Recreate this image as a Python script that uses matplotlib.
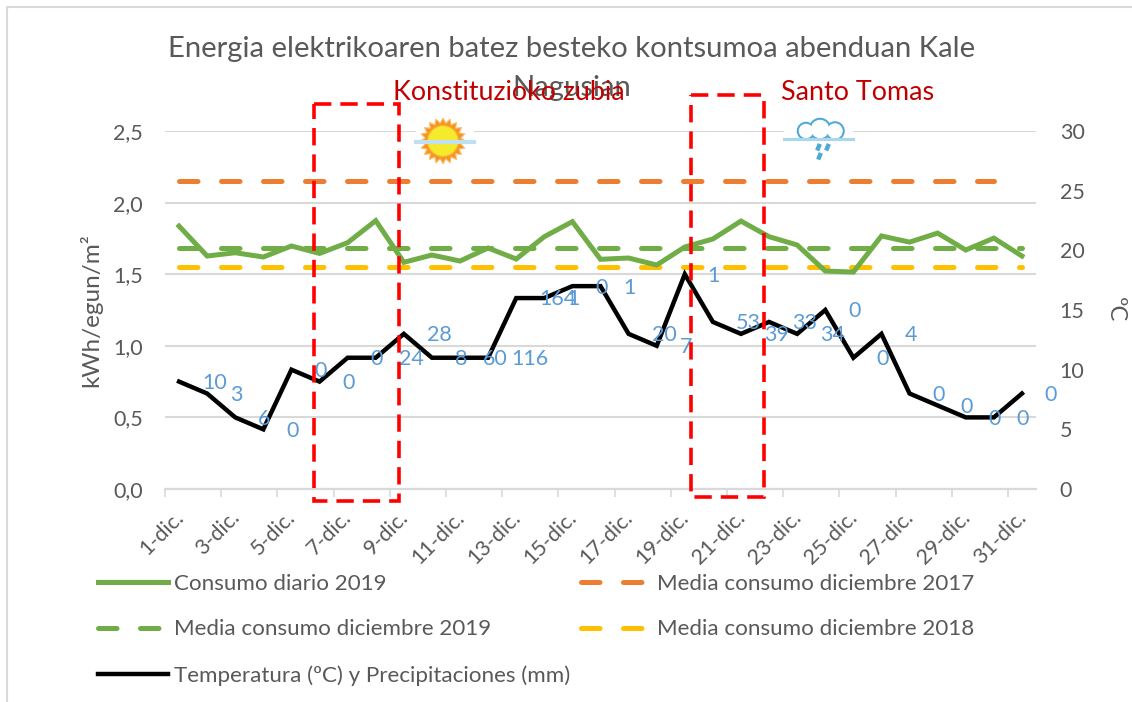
import numpy as np
import matplotlib
matplotlib.use('Agg')
import matplotlib.pyplot as plt
from matplotlib.patches import Circle, Polygon, Rectangle
from matplotlib.transforms import ScaledTranslation

plt.rcParams['font.family'] = ['Lato', 'DejaVu Sans']

days = list(range(1, 32))
day_labels = [f"{d}-dic." for d in days]

consumo_2019 = [1.836, 1.627, 1.650, 1.620, 1.697, 1.645, 1.720, 1.874, 1.583, 1.634, 1.592,
                1.683, 1.606, 1.762, 1.867, 1.604, 1.613, 1.564, 1.690, 1.746, 1.871, 1.762,
                1.704, 1.522, 1.515, 1.767, 1.724, 1.787, 1.669, 1.752, 1.627]
media_2019 = [1.685] * 31
media_2018 = [1.55] * 31
media_2017 = [2.15] * 30  # esta serie acaba un dia antes
temperatura = [9, 8, 6, 5, 10, 9, 11, 11, 13, 11, 11, 11, 16, 16, 17, 17,
               13, 12, 18, 14, 13, 14, 13, 15, 11, 13, 8, 7, 6, 6, 8]
precipitacion = [10, 3, 6, 0, 0, 0, 0, 24, 28, 8, 60, 116, 164, 1, 0, 1,
                 20, 7, 1, 53, 39, 33, 34, 0, 0, 4, 0, 0, 0, 0, 0]

GREEN = '#70AD47'
ORANGE = '#ED7D31'
YELLOW = '#FFC000'
GRAY = '#595959'
GRID = '#D9D9D9'
BLUE = '#5B9BD5'
RED = '#FF0000'
DARK_RED = '#C00000'
SKY = '#4FA9D6'
W, H = 1132, 702

fig = plt.figure(figsize=(W / 100, H / 100), dpi=100)
ax = fig.add_axes([165 / W, 1 - 489 / H, 871 / W, 358 / H])
ax2 = ax.twinx()

# ejes
ax.set_xlim(0.5, 31.5)
ax.set_ylim(0, 2.5)
ax2.set_ylim(0, 30)
ax.set_yticks(np.arange(0, 2.51, 0.5))
ax.set_yticklabels([f"{v:.1f}".replace('.', ',') for v in np.arange(0, 2.51, 0.5)])
ax2.set_yticks(range(0, 31, 5))
ax.set_xticks(days[::2])
ax.set_xticklabels(day_labels[::2], rotation=45, ha='right', va='top', rotation_mode='anchor')
ax.set_xticks(np.arange(0.5, 32, 2), minor=True)
ax.tick_params(axis='x', which='major', length=0, pad=13, labelsize=15.5, labelcolor=GRAY)
ax.tick_params(axis='x', which='minor', length=5.5, width=1.2, color=GRID)
ax.tick_params(axis='y', length=0, pad=16, labelsize=15.5, labelcolor=GRAY)
ax2.tick_params(axis='y', length=0, pad=17, labelsize=15.5, labelcolor=GRAY)
shift = ScaledTranslation(-6 / 100, 0, fig.dpi_scale_trans)
for lab in ax.get_xticklabels():
    lab.set_transform(lab.get_transform() + shift)
ax.grid(axis='y', color=GRID, linewidth=1.5)
ax.set_axisbelow(True)
for a in (ax, ax2):
    for side in ('top', 'left', 'right'):
        a.spines[side].set_visible(False)
    a.spines['bottom'].set_color(GRID)
    a.spines['bottom'].set_linewidth(1.5)
ax.set_ylabel('kWh/egun/m²', fontsize=17.5, color=GRAY, labelpad=8)
ax2.set_ylabel('ºC', fontsize=17, color=GRAY, rotation=270, labelpad=30)

# series
dash = (3.7, 4.7)
lw = 3.6
l_diario, = ax.plot(days, consumo_2019, color=GREEN, lw=lw, solid_joinstyle='miter', zorder=4)
l_m19, = ax.plot(days, media_2019, color=GREEN, lw=lw, dashes=dash, dash_capstyle='round', zorder=3)
l_m18, = ax.plot(days, media_2018, color=YELLOW, lw=lw, dashes=dash, dash_capstyle='round', zorder=3)
l_m17, = ax.plot(days[:30], media_2017, color=ORANGE, lw=lw, dashes=dash, dash_capstyle='round', zorder=3)
l_temp, = ax2.plot(days, temperatura, color='black', lw=3.2, solid_joinstyle='miter')

# las etiquetas de lluvia van desplazadas a la derecha de cada punto
for d, t, p in zip(days, temperatura, precipitacion):
    ax2.annotate(str(p), (d, t), xytext=(16.5, -1), textcoords='offset points',
                 ha='left', va='center', fontsize=15.5, color=BLUE, zorder=6)

fig.legend([l_diario, l_m19, l_temp, l_m17, l_m18],
           ['Consumo diario 2019', 'Media consumo diciembre 2019', 'Temperatura (ºC) y Precipitaciones (mm)',
            'Media consumo diciembre 2017', 'Media consumo diciembre 2018'],
           ncols=2, loc='upper left', bbox_to_anchor=(98 / W, 1 - 574 / H), frameon=False,
           fontsize=16.1, labelcolor=GRAY, handlelength=3.13, handletextpad=0.27,
           labelspacing=1.14, columnspacing=0.5, borderpad=0, borderaxespad=0)

# capa en pixeles para titulo, recuadros e iconos
over = fig.add_axes([0, 0, 1, 1], zorder=10)
over.set_xlim(0, W)
over.set_ylim(H, 0)
over.axis('off')

# marco del grafico (solo arriba e izquierda)
over.plot([7, 7, W], [H, 7, 7], color=GRID, lw=1.5)

over.text(572, 49, 'Energia elektrikoaren batez besteko kontsumoa abenduan Kale', ha='center', va='center',
          fontsize=21.1, color=GRAY)
over.text(572, 88, 'Nagusian', ha='center', va='center', fontsize=21.1, color=GRAY)
over.text(393, 93, 'Konstituzioko zubia', ha='left', va='center', fontsize=19.3, color=DARK_RED)
over.text(781, 93, 'Santo Tomas', ha='left', va='center', fontsize=19.4, color=DARK_RED)

for x0, y0, x1, y1 in [(314, 104, 399, 501), (691, 95, 764, 497)]:
    over.add_patch(Rectangle((x0, y0), x1 - x0, y1 - y0, fill=False, edgecolor=RED, lw=2.6,
                             linestyle=(0, (4.8, 2.5))))

# icono sol
over.add_patch(Rectangle((416, 127), 58, 12, fc='white', ec='none'))
over.plot([416, 474], [142, 142], color='#BFE0F0', lw=3)
ang = np.linspace(0, 2 * np.pi, 41)[:-1]
rad = np.where(np.arange(40) % 2 == 0, 23, 18)
over.add_patch(Polygon(np.c_[443 + rad * np.cos(ang), 141 + rad * np.sin(ang)], fc='#F7941D', ec='#FBC27A', lw=0.8))
over.add_patch(Circle((443, 141), 15.5, fc='#F6EA2D', ec='#F9B233', lw=1))

# icono nube
over.add_patch(Rectangle((784, 126), 69, 12, fc='white', ec='none'))
lobes = [(806, 131, 8), (820, 129, 10), (835, 131, 8.5)]
for cx, cy, r in lobes:
    over.add_patch(Circle((cx, cy), r, fc='white', ec=SKY, lw=1.8))
for cx, cy, r in lobes:
    over.add_patch(Circle((cx, cy), r - 0.8, fc='white', ec='none'))
over.add_patch(Rectangle((784, 139), 69, 5, fc='white', ec='none'))
over.plot([784, 853], [139, 139], color='#A9D8EE', lw=2.2)
for x0, y0 in [(819, 146), (828, 146), (820, 155)]:
    over.plot([x0, x0 - 1], [y0, y0 + 2.5], color=SKY, lw=3.2)

fig.savefig('out.png', dpi=100)
